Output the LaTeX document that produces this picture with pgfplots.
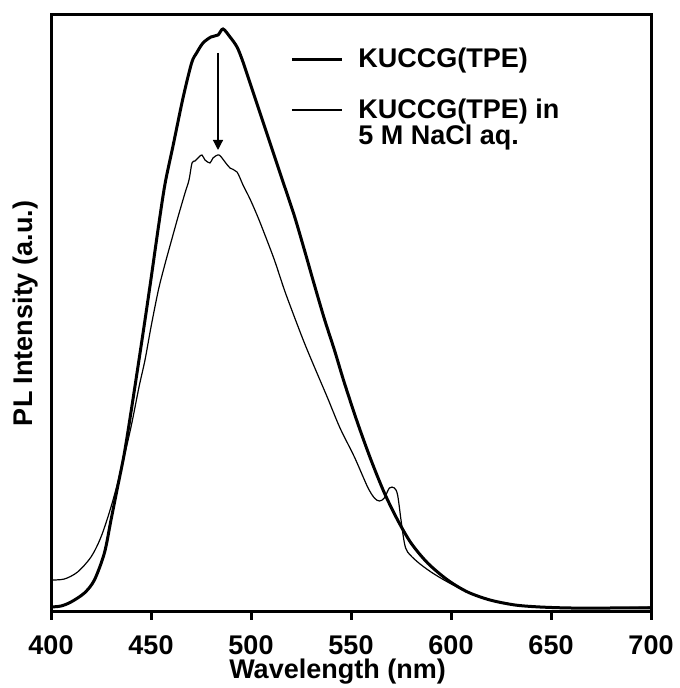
\documentclass[border=0pt]{standalone}
\usepackage{fontspec}
\setmainfont{Liberation Sans}
\usepackage{pgfplots}
\pgfplotsset{compat=1.18}
\usetikzlibrary{arrows.meta}

% intensity in pixel units of the original (0 = baseline)
\pgfplotstableread{
x y
400 5
405 6
410 10
416.7 19
421.7 32
426.7 59
430 92
433.3 125
436.7 159
440 200
443.3 243
446.7 288
450 333
453.7 385
457 428
461 466
466 514
470.3 549
472.8 559
476 569
480 575
483.5 577
486 583
489.5 575
493 565
496 550
501 520
506 490
511 460
516.7 426
521.7 396
526.7 362
531.7 327
536.7 293
541.7 262
546.7 229
553.3 189
560 152
566.7 119
573.3 92
580 69
588.3 49
598.3 32
608.3 20
619.5 12
632 7
644.5 5
660 4
680 4
700 4
}\pure

\pgfplotstableread{
x y
400 32
406.7 33
413.3 40
420 55
425 75
430 105
435 142
440 185
444 225
447 252
450 285
453.7 322
457 348
460.3 372
463.5 395
467 419
469 432
470.5 449
472 451
474 455
475.5 457
477 452
479.5 449
481 454
484 457
487 450
489.5 444
493 440
496 427
499.5 413
503 397
506 382
511.7 352
516.7 322
521.7 295
526.7 269
531.7 245
538.3 214
544.5 184
551.7 155
558.3 125
561.7 114
564.2 111
566.7 114
569.2 124
571.7 124
573.3 117
575 92
576.7 69
578.3 60
583.3 50
590 40
598.3 30
608.3 20
619.5 12
632 7
644.5 5
660 4
680 4
700 5
}\nacl

\begin{document}
\begin{tikzpicture}
\begin{axis}[
  name=ax,
  scale only axis,
  width=300pt,
  height=298.5pt,
  xmin=400, xmax=700,
  ymin=0, ymax=597,
  xtick={400,450,...,700},
  ytick=\empty,
  xtick pos=bottom,
  tick align=outside,
  major tick length=4pt,
  every tick/.style={black, line width=1.5pt},
  axis line style={line width=1.5pt},
  font=\fontsize{13.5}{13.5}\selectfont\bfseries,
  /pgf/number format/assume math mode=true,
  xticklabel style={font=\fontsize{13.5}{13.5}\selectfont\bfseries, anchor=base, yshift=-17pt},
  xlabel={Wavelength (nm)},
  ylabel={PL Intensity (a.u.)},
  xlabel style={at={(axis description cs:0.5,0)}, anchor=center, yshift=-30pt, xshift=-6.75pt},
  ylabel style={at={(axis description cs:0,0.5)}, anchor=center, yshift=12.5pt},
  legend cell align=left,
  legend image code/.code={\draw[#1] (0pt,0pt) -- (25pt,0pt);},
  legend style={draw=none, fill=none, at={(axis description cs:0.3884,0.9585)},
    anchor=north west, row sep=10pt,
    /tikz/every odd column/.append style={column sep=5.5pt},
    font=\fontsize{13.5}{13.5}\selectfont\bfseries},
]
\addplot[black, line width=1.5pt, smooth] table[x=x, y=y] {\pure};
\addlegendentry{KUCCG(TPE)}
\addplot[black, line width=0.6pt, smooth] table[x=x, y=y] {\nacl};
\addlegendentry{\def\arraystretch{0.82}\begin{tabular}[t]{@{}l@{}}KUCCG(TPE) in\\5 M NaCl aq.\end{tabular}}
\draw[line width=0.6pt, -{Triangle[width=5pt, length=5pt]}] (axis cs:483.5,559) -- (axis cs:483.5,462);
\end{axis}
\pgfresetboundingbox
\path ([shift={(-25.5pt,-38pt)}]ax.south west) rectangle ([shift={(14pt,7.5pt)}]ax.north east);
\end{tikzpicture}
\end{document}
